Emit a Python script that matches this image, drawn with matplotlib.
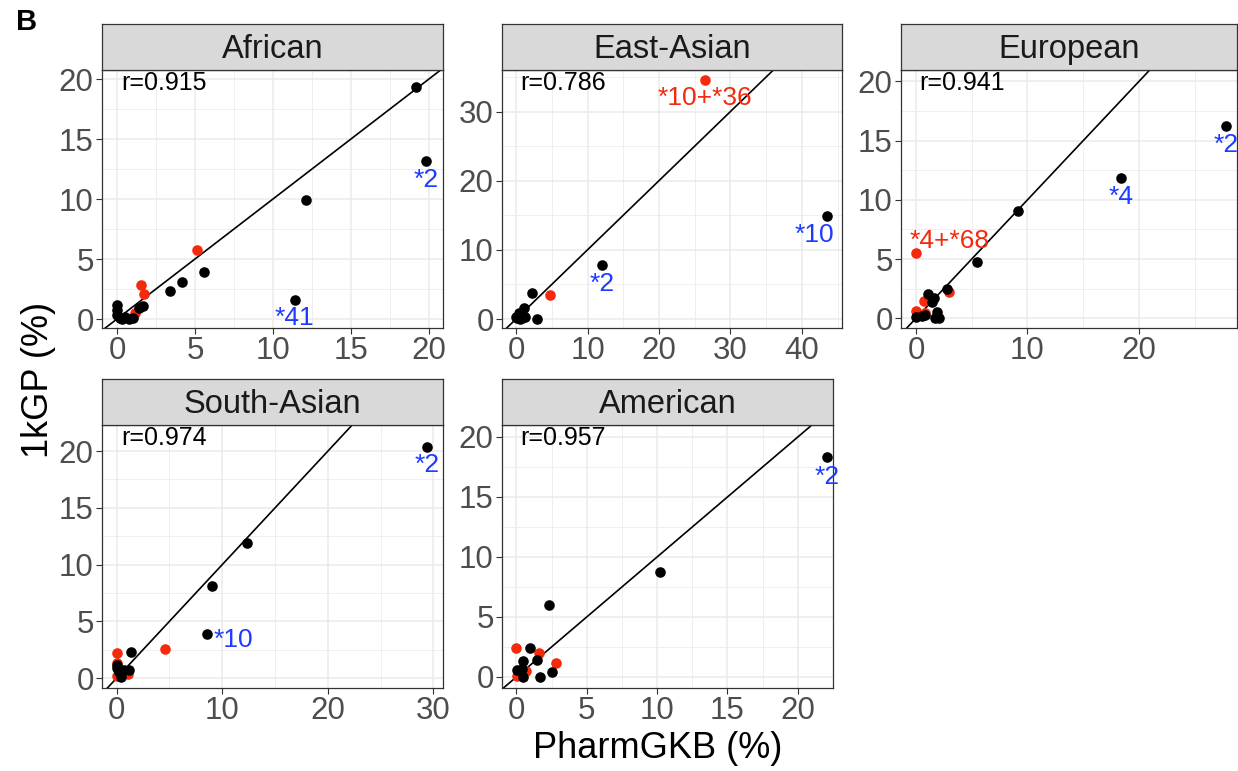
import matplotlib
matplotlib.use("Agg")
import matplotlib.pyplot as plt
import numpy as np

plt.rcParams['font.family'] = ['Liberation Sans', 'DejaVu Sans']

# ---------------- data ----------------
populations = ["African", "East-Asian", "European", "South-Asian", "American"]
r_values = [0.915, 0.786, 0.941, 0.974, 0.957]

african_black_x = [19.2, 19.8, 12.1, 11.4, 5.6, 4.2, 3.4, 1.7, 1.4, 0.0, 0.0, 0.0, 0.2, 0.5, 0.8, 1.0, 0.3]
african_black_y = [19.3, 13.2, 9.9, 1.6, 3.95, 3.1, 2.3, 1.1, 0.9, 1.17, 0.75, 0.33, 0.1, 0.2, 0.0, 0.1, 0.0]
african_red_x = [5.15, 1.55, 1.75, 1.15]
african_red_y = [5.75, 2.85, 2.1, 0.5]

eastasian_black_x = [43.5, 12.0, 2.2, 2.9, 1.1, 0.4, 0.2, 0.5, 0.8, 1.2, 0.6, 0.0]
eastasian_black_y = [14.9, 7.8, 3.7, 0.0, 1.6, 0.85, 0.1, 0.5, 0.2, 0.3, 0.0, 0.3]
eastasian_red_x = [26.4, 4.8]
eastasian_red_y = [34.5, 3.45]

european_black_x = [27.8, 18.4, 9.2, 5.5, 2.8, 1.1, 1.6, 1.4, 1.9, 1.7, 2.1, 0.0, 0.5, 0.8]
european_black_y = [16.2, 11.85, 9.05, 4.75, 2.45, 2.05, 1.7, 1.4, 0.55, 0.0, 0.05, 0.15, 0.2, 0.3]
european_red_x = [0.0, 3.0, 0.75, 0.0, 0.85]
european_red_y = [5.55, 2.25, 1.5, 0.65, 0.45]

southasian_black_x = [29.4, 12.3, 9.0, 8.6, 1.35, 0.0, 0.0, 0.25, 0.7, 1.2, 0.4]
southasian_black_y = [20.4, 11.9, 8.1, 3.85, 2.3, 1.15, 0.85, 0.55, 0.7, 0.7, 0.1]
southasian_red_x = [4.6, 0.0, 0.0, 1.05, 0.0]
southasian_red_y = [2.55, 2.2, 0.17, 0.35, 1.3]

american_black_x = [22.1, 10.2, 2.35, 1.0, 1.45, 0.45, 0.05, 0.5, 1.7, 2.55, 0.4]
american_black_y = [18.3, 8.75, 6.0, 2.4, 1.4, 1.3, 0.6, 0.0, 0.0, 0.4, 0.7]
american_red_x = [0.0, 1.6, 2.85, 0.7, 0.05]
american_red_y = [2.4, 2.0, 1.15, 0.5, 0.1]

# labels: (text, point index, series colour key)
african_labels = [("*2", 1, "black"), ("*41", 3, "black")]
eastasian_labels = [("*10+*36", 0, "red"), ("*10", 0, "black"), ("*2", 1, "black")]
european_labels = [("*2", 0, "black"), ("*4", 1, "black"), ("*4+*68", 0, "red")]
southasian_labels = [("*2", 0, "black"), ("*10", 3, "black")]
american_labels = [("*2", 0, "black")]

x_ticks = [[0, 5, 10, 15, 20], [0, 10, 20, 30, 40], [0, 10, 20], [0, 10, 20, 30], [0, 5, 10, 15, 20]]
y_ticks = [[0, 5, 10, 15, 20], [0, 10, 20, 30], [0, 5, 10, 15, 20], [0, 5, 10, 15, 20], [0, 5, 10, 15, 20]]

# ---------------- style / layout ----------------
W, H = 1238, 771
RED = "#F5290C"
BLUE = "#1E3CFF"
panel_boxes = [  # left, top, right, bottom in pixels
    (102, 70, 443, 328), (502, 70, 842, 328), (901, 70, 1237, 328),
    (102, 425, 443, 688), (502, 425, 833, 688)]
strip_h = 46
limits = [((-0.96, 20.9), (-0.75, 20.75)),
          ((-1.96, 45.6), (-1.3, 36.0)),
          ((-1.34, 28.8), (-0.82, 20.97)),
          ((-1.39, 30.9), (-0.88, 22.3)),
          ((-1.02, 22.5), (-0.92, 21.0))]
label_offsets = [[(0, -19), (0, -18)],
                 [(0, -18), (-13, -19), (0, -19)],
                 [(0, -19), (0, -19), (34, 12)],
                 [(0, -18), (26, -6)],
                 [(0, -20)]]

series = [
    (african_black_x, african_black_y, african_red_x, african_red_y, african_labels),
    (eastasian_black_x, eastasian_black_y, eastasian_red_x, eastasian_red_y, eastasian_labels),
    (european_black_x, european_black_y, european_red_x, european_red_y, european_labels),
    (southasian_black_x, southasian_black_y, southasian_red_x, southasian_red_y, southasian_labels),
    (american_black_x, american_black_y, american_red_x, american_red_y, american_labels),
]

fig = plt.figure(figsize=(W / 100, H / 100), dpi=100)
fig.patch.set_facecolor("white")

for i, (name, r) in enumerate(zip(populations, r_values)):
    l, t, rr, b = panel_boxes[i]
    ax = fig.add_axes([l / W, 1 - b / H, (rr - l) / W, (b - t) / H])
    bx, by, rx, ry, labs = series[i]
    (x0, x1), (y0, y1) = limits[i]
    xt = x_ticks[i]; yt = y_ticks[i]
    dx = xt[1] - xt[0]; dy = yt[1] - yt[0]
    ax.set_xticks(xt)
    ax.set_yticks(yt)
    mx = np.arange(xt[0] - dx / 2, x1, dx)
    my = np.arange(yt[0] - dy / 2, y1, dy)
    ax.set_xticks(mx[(mx > x0) & (mx < x1)], minor=True)
    ax.set_yticks(my[(my > y0) & (my < y1)], minor=True)
    ax.grid(True, which="major", color="#EBEBEB", linewidth=1.1, zorder=0)
    ax.grid(True, which="minor", color="#EBEBEB", linewidth=0.55, zorder=0)
    ax.set_axisbelow(True)
    ax.tick_params(which="minor", length=0)
    ax.tick_params(which="major", length=4, width=0.8, color="#333333",
                   labelsize=22.5, labelcolor="#4D4D4D", pad=2)
    for s in ax.spines.values():
        s.set_color("#333333")
        s.set_linewidth(0.9)
    ax.axline((0, 0), slope=1, color="black", linewidth=1.2, zorder=2)
    ax.scatter(rx, ry, s=58, color=RED, linewidths=0, zorder=3)
    ax.scatter(bx, by, s=58, color="black", linewidths=0, zorder=4)
    ax.set_xlim(x0, x1)
    ax.set_ylim(y0, y1)
    for (txt, idx, key), off in zip(labs, label_offsets[i]):
        if key == "red":
            px, py, col = rx[idx], ry[idx], RED
        else:
            px, py, col = bx[idx], by[idx], BLUE
        ax.annotate(txt, (px, py), xytext=off, textcoords="offset pixels",
                    ha="center", va="center", color=col, fontsize=19,
                    annotation_clip=False, clip_on=False)
    ax.text(0.055, 0.95, f"r={r:.3f}", transform=ax.transAxes, ha="left",
            va="center", fontsize=18, color="black")
    # strip
    sax = fig.add_axes([l / W, 1 - t / H, (rr - l) / W, strip_h / H])
    sax.set_facecolor("#D9D9D9")
    sax.set_xticks([]); sax.set_yticks([])
    for s in sax.spines.values():
        s.set_color("#333333")
        s.set_linewidth(0.9)
    sax.text(0.5, 0.45, name, transform=sax.transAxes, ha="center", va="center",
             fontsize=23.5, color="#1A1A1A")

fig.text(658 / W, 1 - 748 / H, "PharmGKB (%)", ha="center", va="center", fontsize=26, color="black")
fig.text(38 / W, 1 - 380 / H, "1kGP (%)", ha="center", va="center", rotation=90, fontsize=26, color="black")
fig.text(16 / W, 1 - 22 / H, "B", ha="left", va="center", fontsize=21, fontweight="bold")

fig.savefig("out.png", dpi=100)
